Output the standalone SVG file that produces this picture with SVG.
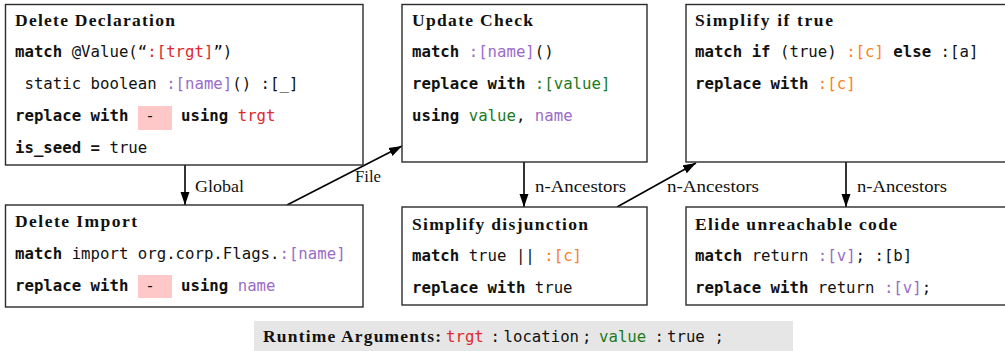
<svg xmlns="http://www.w3.org/2000/svg" width="1005" height="351" viewBox="0 0 1005 351">
  <defs>
    <style>
      .box { fill: #ffffff; stroke: #2b2b2b; stroke-width: 1.4; }
      .title { font-family: "Liberation Serif", "Times New Roman", serif; font-weight: bold; font-size: 17.5px; fill: #111; }
      .code { font-family: "DejaVu Sans Mono", "Liberation Mono", monospace; font-size: 15.7px; fill: #111; white-space: pre; }
      .kw { font-weight: bold; }
      .red { fill: #e0282f; }
      .purple { fill: #9a6cc8; }
      .green { fill: #1b7a1b; }
      .orange { fill: #ff8020; }
      .hole { fill: #ffc8c8; }
      .edge { stroke: #000; stroke-width: 1.6; fill: none; marker-end: url(#arrow); }
      .elabel { font-family: "Liberation Serif", "Times New Roman", serif; font-size: 17px; fill: #111; }
    </style>
    <marker id="arrow" markerUnits="userSpaceOnUse" markerWidth="14" markerHeight="10" refX="13" refY="5" orient="auto">
      <path d="M0,0.5 L13,5 L0,9.5 Z" fill="#000"/>
    </marker>
  </defs>

  <rect width="1005" height="351" fill="#ffffff"/>

  <!-- connectors -->
  <g id="connectors">
    <line class="edge" x1="185" y1="165" x2="185" y2="205"/>
    <line class="edge" x1="287" y1="205" x2="402" y2="146"/>
    <line class="edge" x1="524" y1="162" x2="524" y2="207"/>
    <line class="edge" x1="617" y1="207" x2="696" y2="163"/>
    <line class="edge" x1="846" y1="162" x2="846" y2="207"/>
    <text class="elabel" x="195" y="192" textLength="49" lengthAdjust="spacingAndGlyphs">Global</text>
    <text class="elabel" x="355" y="182" textLength="26" lengthAdjust="spacingAndGlyphs">File</text>
    <text class="elabel" x="535" y="192" textLength="91" lengthAdjust="spacingAndGlyphs">n-Ancestors</text>
    <text class="elabel" x="667" y="192" textLength="92" lengthAdjust="spacingAndGlyphs">n-Ancestors</text>
    <text class="elabel" x="857" y="192" textLength="90" lengthAdjust="spacingAndGlyphs">n-Ancestors</text>
  </g>

  <!-- Delete Declaration -->
  <g id="delete-declaration">
    <rect class="box" x="5.5" y="4.5" width="357.5" height="160.5"/>
    <text class="title" x="15" y="26" textLength="160" lengthAdjust="spacing">Delete Declaration</text>
    <text class="code" x="15" y="57"><tspan class="kw">match</tspan> @Value(“<tspan class="red">:[trgt]</tspan>”)</text>
    <text class="code" x="15" y="89"> static boolean <tspan class="purple">:[name]</tspan>() :[_]</text>
    <rect class="hole" x="138" y="106" width="34" height="24"/>
    <text class="code" x="15" y="121"><tspan class="kw">replace with</tspan></text>
    <text class="code" x="145.3" y="121">-</text>
    <text class="code" x="181" y="121"><tspan class="kw">using</tspan> <tspan class="red">trgt</tspan></text>
    <text class="code" x="15" y="153"><tspan class="kw">is_seed =</tspan> true</text>
  </g>

  <!-- Update Check -->
  <g id="update-check">
    <rect class="box" x="402" y="4.5" width="245" height="157.5"/>
    <text class="title" x="412" y="26" textLength="121" lengthAdjust="spacing">Update Check</text>
    <text class="code" x="412" y="57"><tspan class="kw">match</tspan> <tspan class="purple">:[name]</tspan>()</text>
    <text class="code" x="412" y="89"><tspan class="kw">replace with</tspan> <tspan class="green">:[value]</tspan></text>
    <text class="code" x="412" y="121"><tspan class="kw">using</tspan> <tspan class="green">value</tspan>, <tspan class="purple">name</tspan></text>
  </g>

  <!-- Simplify if true -->
  <g id="simplify-if-true">
    <rect class="box" x="686" y="4.5" width="330" height="157.5"/>
    <text class="title" x="695" y="26" textLength="138" lengthAdjust="spacing">Simplify if true</text>
    <text class="code" x="695" y="57"><tspan class="kw">match if</tspan> (true) <tspan class="orange">:[c]</tspan> <tspan class="kw">else</tspan> :[a]</text>
    <text class="code" x="695" y="89"><tspan class="kw">replace with</tspan> <tspan class="orange">:[c]</tspan></text>
  </g>

  <!-- Delete Import -->
  <g id="delete-import">
    <rect class="box" x="5.5" y="205" width="357.5" height="102"/>
    <text class="title" x="15" y="227" textLength="122" lengthAdjust="spacing">Delete Import</text>
    <text class="code" x="15" y="259"><tspan class="kw">match</tspan> import org.corp.Flags.<tspan class="purple">:[name]</tspan></text>
    <rect class="hole" x="138" y="275" width="34" height="23"/>
    <text class="code" x="15" y="291"><tspan class="kw">replace with</tspan></text>
    <text class="code" x="145.3" y="291">-</text>
    <text class="code" x="181" y="291"><tspan class="kw">using</tspan> <tspan class="purple">name</tspan></text>
  </g>

  <!-- Simplify disjunction -->
  <g id="simplify-disjunction">
    <rect class="box" x="402" y="207" width="245" height="98"/>
    <text class="title" x="412" y="230" textLength="176" lengthAdjust="spacing">Simplify disjunction</text>
    <text class="code" x="412" y="261"><tspan class="kw">match</tspan> true || <tspan class="orange">:[c]</tspan></text>
    <text class="code" x="412" y="293"><tspan class="kw">replace with</tspan> true</text>
  </g>

  <!-- Elide unreachable code -->
  <g id="elide-unreachable-code">
    <rect class="box" x="686" y="207" width="330" height="98"/>
    <text class="title" x="695" y="230" textLength="202" lengthAdjust="spacing">Elide unreachable code</text>
    <text class="code" x="695" y="261"><tspan class="kw">match</tspan> return <tspan class="purple">:[v]</tspan>; :[b]</text>
    <text class="code" x="695" y="293"><tspan class="kw">replace with</tspan> return <tspan class="purple">:[v]</tspan>;</text>
  </g>

  <!-- runtime arguments bar -->
  <g id="runtime-arguments">
    <rect x="254" y="321" width="539" height="30" fill="#e6e6e6"/>
    <text class="title" x="263" y="342" textLength="178" lengthAdjust="spacing">Runtime Arguments:</text>
    <text class="code" x="446" y="342"><tspan class="red">trgt</tspan></text>
    <text class="code" x="490.5" y="342">:</text>
    <text class="code" x="503.5" y="342">location</text>
    <text class="code" x="582" y="342">;</text>
    <text class="code" x="599" y="342"><tspan class="green">value</tspan></text>
    <text class="code" x="654.5" y="342">:</text>
    <text class="code" x="667" y="342">true</text>
    <text class="code" x="714.5" y="342">;</text>
  </g>
</svg>
